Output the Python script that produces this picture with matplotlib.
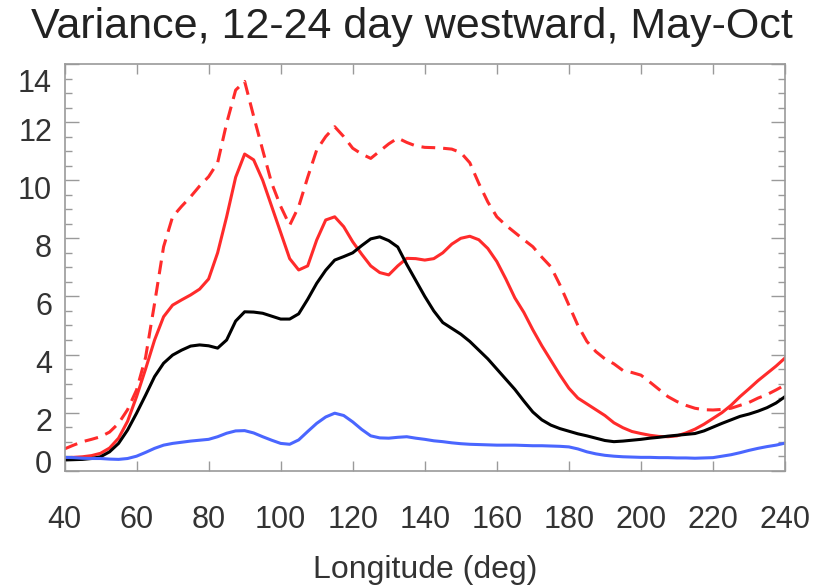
import numpy as np
import matplotlib.pyplot as plt
from matplotlib.transforms import ScaledTranslation

plt.rcParams['font.family'] = ['Liberation Sans', 'DejaVu Sans']

# --- Longitude grid (deg) ---
lon = np.arange(40, 240.1, 2.5)

# --- Variance curves on the 2.5 deg grid ---
var_dashed = [0.75, 0.88, 1.0, 1.08, 1.17, 1.33, 1.63, 2.1, 2.78, 3.9,
              5.76, 7.71, 8.74, 9.1, 9.43, 9.8, 10.12, 10.6, 11.96, 13.1,
              13.4, 12.2, 11.04, 9.9, 9.1, 8.45, 9.09, 10.1, 11.04, 11.5,
              11.84, 11.5, 11.1, 10.9, 10.75, 11.0, 11.25, 11.45, 11.3, 11.18,
              11.13, 11.12, 11.1, 11.07, 10.95, 10.6, 9.89, 9.25, 8.74, 8.45,
              8.2, 7.95, 7.71, 7.35, 7.02, 6.4, 5.7, 5.0, 4.45, 4.1,
              3.85, 3.68, 3.45, 3.38, 3.29, 3.05, 2.8, 2.55, 2.38, 2.25,
              2.15, 2.1, 2.09, 2.11, 2.15, 2.25, 2.35, 2.5, 2.62, 2.78,
              2.95]
var_red = [0.45, 0.46, 0.48, 0.52, 0.6, 0.78, 1.12, 1.7, 2.55, 3.5,
           4.5, 5.3, 5.7, 5.88, 6.05, 6.25, 6.6, 7.5, 8.74, 10.1,
           10.9, 10.7, 10.0, 9.1, 8.2, 7.3, 6.91, 7.05, 7.94, 8.63,
           8.74, 8.4, 7.88, 7.45, 7.05, 6.82, 6.74, 7.05, 7.31, 7.3,
           7.25, 7.3, 7.5, 7.8, 8.0, 8.07, 7.95, 7.65, 7.2, 6.6,
           5.95, 5.45, 4.85, 4.3, 3.8, 3.3, 2.84, 2.5, 2.3, 2.1,
           1.9, 1.65, 1.48, 1.35, 1.28, 1.22, 1.18, 1.17, 1.2, 1.3,
           1.43, 1.6, 1.8, 2.0, 2.25, 2.55, 2.82, 3.1, 3.35, 3.6,
           3.88]
var_black = [0.37, 0.38, 0.39, 0.42, 0.48, 0.65, 0.94, 1.4, 1.98, 2.6,
             3.24, 3.7, 3.98, 4.15, 4.29, 4.33, 4.3, 4.22, 4.5, 5.15,
             5.47, 5.46, 5.42, 5.32, 5.22, 5.22, 5.4, 5.9, 6.45, 6.9,
             7.25, 7.37, 7.5, 7.75, 7.98, 8.05, 7.92, 7.7, 7.1, 6.55,
             6.0, 5.5, 5.1, 4.9, 4.7, 4.45, 4.15, 3.85, 3.5, 3.15,
             2.8, 2.4, 2.02, 1.75, 1.57, 1.45, 1.36, 1.27, 1.2, 1.12,
             1.04, 1.0, 1.02, 1.05, 1.08, 1.12, 1.15, 1.19, 1.22, 1.25,
             1.28, 1.37, 1.5, 1.63, 1.75, 1.87, 1.95, 2.05, 2.17, 2.33,
             2.55]
var_blue = [0.46, 0.45, 0.43, 0.42, 0.42, 0.4, 0.39, 0.42, 0.5, 0.63,
            0.77, 0.88, 0.94, 0.98, 1.02, 1.05, 1.08, 1.17, 1.29, 1.37,
            1.38, 1.3, 1.17, 1.05, 0.94, 0.91, 1.06, 1.35, 1.63, 1.85,
            1.98, 1.9, 1.68, 1.42, 1.2, 1.13, 1.12, 1.15, 1.17, 1.12,
            1.08, 1.03, 1.0, 0.96, 0.93, 0.91, 0.9, 0.89, 0.88, 0.88,
            0.88, 0.87, 0.86, 0.86, 0.85, 0.84, 0.82, 0.75, 0.65, 0.58,
            0.53, 0.5, 0.48, 0.47, 0.46, 0.46, 0.45, 0.45, 0.44, 0.44,
            0.43, 0.44, 0.45, 0.5, 0.55, 0.62, 0.7, 0.77, 0.83, 0.88,
            0.95]

x_ticks = np.arange(40, 241, 20)
y_ticks = np.arange(0, 15, 2)

# --- Plot ---
fig = plt.figure(figsize=(8.24, 5.87), dpi=100)
ax = fig.add_axes([0.0783, 0.1981, 0.8744, 0.6929])

lw = 2.2
ax.plot(lon, var_dashed, color='#ff2b2b', lw=lw, dashes=(4.5, 2.6))
ax.plot(lon, var_red, color='#ff2b2b', lw=lw)
ax.plot(lon, var_black, color='black', lw=lw)
ax.plot(lon, var_blue, color='#4a66ff', lw=lw)

ax.set_xlim(40, 240)
ax.set_ylim(0, 14)
ax.set_xticks(x_ticks)
ax.set_yticks(y_ticks)
ax.set_yticks(np.arange(0, 14.01, 0.5), minor=True)

frame = '#9a9a9a'
for sp in ax.spines.values():
    sp.set_color(frame)
    sp.set_linewidth(1.2)
ax.tick_params(axis='both', which='both', direction='in', color=frame,
               width=1.0, labelcolor='#333333', labelsize=22)
ax.tick_params(axis='x', which='major', length=7, top=True, pad=25)
ax.tick_params(axis='y', which='major', length=10, right=True, pad=9)
ax.tick_params(axis='y', which='minor', length=5, right=True)

# nudge y labels down, keeping the end labels inside the frame
for lab, val in zip(ax.get_yticklabels(), y_ticks):
    dy = -7
    if val == 14:
        dy = -17
    elif val == 0:
        dy = 9
    lab.set_transform(lab.get_transform() + ScaledTranslation(0, dy / 100, fig.dpi_scale_trans))

ax.set_xlabel('Longitude (deg)', fontsize=23, color='#333333', labelpad=14)
fig.text(0.5, 0.954, 'Variance, 12-24 day westward, May-Oct', fontsize=31,
         color='#222222', ha='center', va='center')

plt.savefig('out.png', dpi=100)
